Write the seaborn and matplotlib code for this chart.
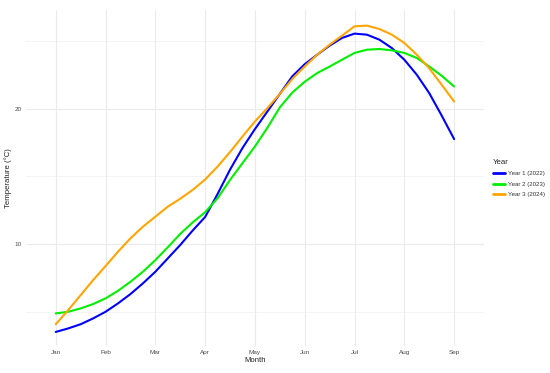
import pandas as pd
import matplotlib
matplotlib.use('Agg')
import matplotlib.pyplot as plt
import seaborn as sns

# Month positions (quarter-month steps, 0 = Jan ... 8 = Sep) and tick labels
month_pos = [i / 4 for i in range(33)]
month_labels = ['Jan', 'Feb', 'Mar', 'Apr', 'May', 'Jun', 'Jul', 'Aug', 'Sep']

# Temperatures
year1 = [3.50, 3.76, 4.07, 4.50, 4.99, 5.61, 6.30, 7.09, 7.95, 8.94, 9.93, 11.0,
         12.0, 13.7, 15.5, 17.1, 18.5, 19.8, 21.1, 22.4, 23.3, 24.0, 24.67, 25.24,
         25.56, 25.48, 25.11, 24.49, 23.63, 22.52, 21.16, 19.5, 17.76]
year2 = [4.87, 4.99, 5.24, 5.56, 5.98, 6.54, 7.21, 7.95, 8.81, 9.76, 10.75, 11.6,
         12.35, 13.39, 14.74, 15.98, 17.21, 18.6, 20.1, 21.2, 22.0, 22.64, 23.12, 23.63,
         24.13, 24.37, 24.42, 24.32, 24.13, 23.76, 23.13, 22.44, 21.65]
year3 = [4.07, 5.11, 6.22, 7.33, 8.37, 9.43, 10.42, 11.28, 12.02, 12.76, 13.35, 14.0,
         14.77, 15.73, 16.8, 17.95, 19.06, 20.05, 21.1, 22.2, 23.13, 24.0, 24.74, 25.41,
         26.1, 26.15, 25.9, 25.48, 24.87, 24.0, 23.0, 21.78, 20.54]
series_names = ['Year 1 (2022)', 'Year 2 (2023)', 'Year 3 (2024)']
series_colors = ['#0000FF', '#00EE00', '#FFA500']

n = len(month_pos)
df = pd.DataFrame({
    'Month': month_pos * 3,
    'Temperature': year1 + year2 + year3,
    'Year': [series_names[0]] * n + [series_names[1]] * n + [series_names[2]] * n,
})

sns.set_style('white')
plt.rcParams['font.family'] = ['Liberation Sans', 'DejaVu Sans']

fig = plt.figure(figsize=(5.5, 3.73), dpi=100)
ax = fig.add_axes([0.047, 0.072, 0.833, 0.901])

sns.lineplot(data=df, x='Month', y='Temperature', hue='Year',
             palette=dict(zip(series_names, series_colors)),
             linewidth=1.5, ax=ax, legend=True)

# grid like ggplot theme_minimal
for v in [5, 15, 25]:
    ax.axhline(v, color='#F2F2F2', linewidth=0.6, zorder=0)
for v in [10, 20]:
    ax.axhline(v, color='#EBEBEB', linewidth=0.8, zorder=0)
for v in range(9):
    ax.axvline(v, color='#EBEBEB', linewidth=0.8, zorder=0)

ax.set_xlim(-0.6, 8.6)
ax.set_ylim(2.45, 27.3)
ax.set_xticks(range(9))
ax.set_xticklabels(month_labels)
ax.set_yticks([10, 20])
ax.tick_params(axis='both', length=0, labelsize=4.6, colors='#4D4D4D', pad=3)
for s in ax.spines.values():
    s.set_visible(False)
ax.set_xlabel('Month', fontsize=5.6, color='#222222', labelpad=1)
ax.set_ylabel('Temperature (°C)', fontsize=5.6, color='#222222', labelpad=2)

leg = ax.legend(title='Year', loc='center left', bbox_to_anchor=(1.02, 0.5),
                frameon=False, fontsize=4.4, title_fontsize=5.6,
                handlelength=1.9, handletextpad=0.6, labelspacing=0.85,
                borderpad=0, borderaxespad=0)
leg._legend_box.align = 'left'
for line in leg.get_lines():
    line.set_linewidth(2)
for t in leg.get_texts():
    t.set_color('#333333')

fig.savefig('out.png', dpi=100)
